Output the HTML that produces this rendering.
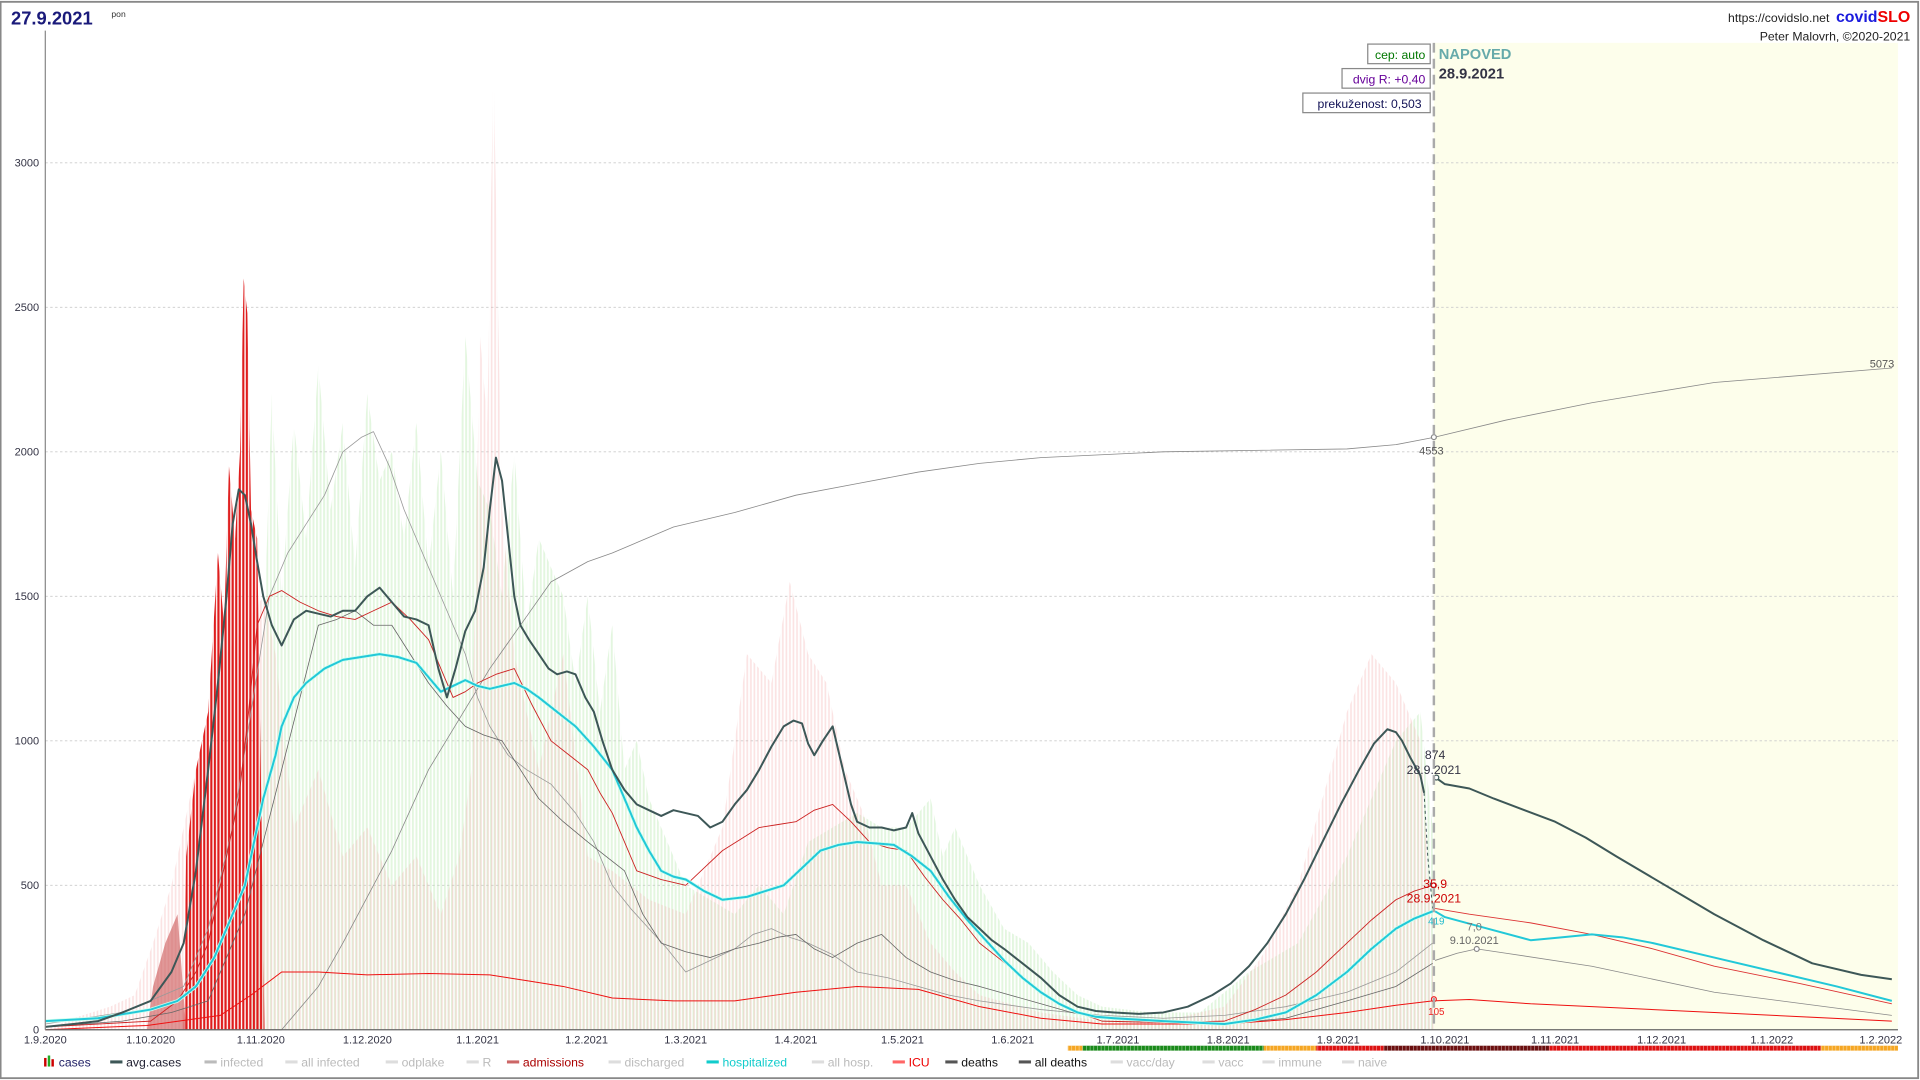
<!DOCTYPE html>
<html><head><meta charset="utf-8"><style>
html,body{margin:0;padding:0;background:#fff;overflow:hidden}
svg{display:block}
text{font-family:"Liberation Sans",sans-serif}
.l{fill:none;vector-effect:non-scaling-stroke;stroke-linejoin:round}
</style></head><body>
<svg width="1920" height="1080" viewBox="0 0 1568 882" preserveAspectRatio="none" xmlns="http://www.w3.org/2000/svg">
<defs>
<pattern id="pg" patternUnits="userSpaceOnUse" width="2.9" height="5000"><rect x="0" y="0" width="1.6" height="5000" fill="#b8e8b0"/></pattern>
<pattern id="pp" patternUnits="userSpaceOnUse" width="2.9" height="5000"><rect x="0.6" y="0" width="1.4" height="5000" fill="#f3b0b0"/></pattern>
<pattern id="pr" patternUnits="userSpaceOnUse" width="2.9" height="5000"><rect x="0.6" y="0" width="1.8" height="5000" fill="#dd1111"/></pattern>
</defs>
<rect x="0" y="0" width="1568" height="882" fill="#fff"/>
<rect x="0.5" y="1.5" width="1566" height="879" fill="none" stroke="#888" stroke-width="1.5"/>
<rect x="1171" y="35" width="379" height="806" fill="#fdfeeb"/>
<g stroke="#ccc" stroke-width="0.7" stroke-dasharray="2,2">
<line x1="37" x2="1550" y1="723" y2="723"/><line x1="37" x2="1550" y1="605" y2="605"/><line x1="37" x2="1550" y1="487" y2="487"/><line x1="37" x2="1550" y1="369" y2="369"/><line x1="37" x2="1550" y1="251" y2="251"/><line x1="37" x2="1550" y1="133" y2="133"/>
</g>
<g font-size="9" fill="#334" text-anchor="end">
<text x="32" y="844">0</text><text x="32" y="726">500</text><text x="32" y="608">1000</text><text x="32" y="490">1500</text><text x="32" y="372">2000</text><text x="32" y="254">2500</text><text x="32" y="136">3000</text>
</g>
<g transform="translate(0,841) scale(1,-0.236)">
<polygon opacity="0.4" fill="url(#pg)" points="205,0 215,1300 222,2200 230,1500 240,2100 250,1700 260,2300 270,1800 280,2100 290,1600 300,2200 310,1900 320,2000 330,1700 340,2100 350,1600 360,2000 370,1500 380,2400 390,1900 400,1800 410,1500 420,2000 430,1400 440,1700 450,1600 460,1500 470,1200 480,1500 490,1100 500,1400 510,900 520,1000 530,800 540,700 560,500 580,450 600,400 620,500 640,400 660,650 680,700 700,750 720,700 740,700 760,800 770,600 780,700 800,500 820,350 840,300 860,200 880,120 900,80 940,60 980,60 1020,200 1060,300 1100,600 1120,800 1140,1000 1160,1100 1170,700 1171,0"/>
<polygon opacity="0.35" fill="url(#pp)" points="37,0 60,40 90,80 110,120 125,300 140,500 155,800 170,1100 185,1300 215,1500 225,1300 240,700 260,900 280,600 300,700 320,500 340,600 360,400 375,600 385,900 392,2400 398,2100 403,3350 406,2650 410,1800 420,1300 440,900 460,1300 480,600 500,550 530,450 560,400 590,700 610,1300 630,1200 645,1550 660,1300 675,1200 690,900 705,750 720,500 740,500 760,300 780,200 800,120 850,60 900,30 960,40 1000,80 1030,250 1060,500 1080,800 1100,1100 1120,1300 1140,1200 1160,1000 1170,300 1171,0"/>
<polygon opacity="0.6" fill="#cc5555" points="120,0 125,150 135,300 145,400 152,0"/>
<polygon opacity="0.95" fill="url(#pr)" points="150,0 152,600 160,900 170,1100 178,1650 183,1400 187,1950 192,1700 196,2000 199,2600 202,2480 205,1800 210,1700 213,900 216,0"/>
<polyline class="l" stroke="#888" stroke-width="0.8" points="37,0 230,0 260,150 280,300 320,620 350,900 380,1110 400,1250 430,1430 450,1550 480,1620 500,1650 550,1740 600,1790 650,1850 700,1890 750,1930 800,1960 850,1980 950,2000 1100,2010 1140,2025 1171,2050 1230,2110 1300,2170 1400,2240 1545,2290"/>
<polyline class="l" stroke="#999" stroke-width="0.8" points="37,20 100,60 150,150 170,350 190,700 205,1100 220,1500 235,1650 250,1750 265,1850 280,2000 295,2050 305,2070 318,1950 330,1800 340,1700 350,1600 365,1450 380,1300 390,1150 400,1050 415,950 430,900 450,850 470,750 485,650 500,500 515,420 530,350 545,280 560,200 575,230 590,260 600,280 615,330 630,350 645,320 660,300 680,260 700,200 725,180 750,150 775,120 800,100 850,70 900,50 950,40 1000,50 1050,80 1100,130 1140,200 1170,300"/>
<polyline class="l" stroke="#666" stroke-width="0.8" points="37,10 100,30 140,60 170,100 185,250 200,400 215,650 230,900 245,1150 260,1400 275,1420 290,1450 305,1400 320,1400 335,1300 350,1200 365,1120 380,1050 395,1020 410,1000 425,900 440,800 460,720 480,650 495,600 510,550 525,400 540,300 560,270 580,250 600,280 620,300 635,320 650,330 665,280 680,250 700,300 720,330 740,250 760,200 780,170 800,150 825,120 850,90 875,60 900,40 950,25 1000,20 1050,40 1100,100 1140,150 1170,230"/>
<polyline class="l" stroke="#888" stroke-width="0.8" points="1172,240 1190,265 1206,280 1230,265 1300,220 1400,130 1545,50"/>
<polyline class="l" stroke="#c22" stroke-width="0.9" points="37,10 80,20 123,30 145,100 160,200 170,300 180,500 195,800 203,1100 210,1400 220,1500 230,1520 245,1480 260,1450 275,1430 290,1420 305,1450 320,1480 335,1420 350,1350 360,1250 370,1150 380,1170 390,1200 405,1230 420,1250 435,1120 450,1000 465,950 480,900 490,820 500,750 510,650 520,550 540,520 560,500 575,560 590,620 605,660 620,700 635,710 650,720 665,760 680,780 695,720 710,650 725,630 740,620 755,530 770,450 785,380 800,300 815,250 830,200 845,150 860,100 880,60 900,30 950,25 1000,30 1025,70 1050,120 1075,200 1100,300 1120,380 1140,450 1155,480 1170,500"/>
<polyline class="l" stroke="#d33" stroke-width="0.9" points="1172,420 1200,400 1250,370 1300,330 1350,280 1400,220 1470,160 1545,90"/>
<polyline class="l" stroke="#e11" stroke-width="1" points="37,0 120,15 180,50 205,120 230,200 260,200 300,190 350,195 400,190 430,170 460,150 500,110 550,100 600,100 650,130 700,150 750,140 775,110 800,80 850,40 900,20 1000,20 1050,35 1100,60 1140,85 1170,100 1200,105 1250,90 1300,80 1400,60 1545,30"/>
<polyline class="l" stroke="#cfe" stroke-width="3.5" points="37,30 80,40 123,70 145,100 160,150 175,250 185,350 200,500 215,800 225,950 230,1050 240,1150 250,1200 265,1250 280,1280 295,1290 310,1300 325,1290 340,1270 350,1220 360,1170 370,1190 380,1210 390,1190 400,1180 410,1190 420,1200 430,1180 440,1150 455,1100 470,1050 485,980 500,900 510,800 520,700 530,620 540,550 550,530 560,520 575,480 590,450 600,455 610,460 625,480 640,500 655,560 670,620 685,640 700,650 715,645 730,640 745,600 760,550 775,460 790,380 805,310 820,240 835,180 850,130 865,90 880,60 895,45 910,40 950,30 1000,20 1025,35 1050,60 1075,120 1100,200 1120,280 1140,350 1155,385 1170,410"/>
<polyline class="l" stroke="#22c8d8" stroke-width="2" points="37,30 80,40 123,70 145,100 160,150 175,250 185,350 200,500 215,800 225,950 230,1050 240,1150 250,1200 265,1250 280,1280 295,1290 310,1300 325,1290 340,1270 350,1220 360,1170 370,1190 380,1210 390,1190 400,1180 410,1190 420,1200 430,1180 440,1150 455,1100 470,1050 485,980 500,900 510,800 520,700 530,620 540,550 550,530 560,520 575,480 590,450 600,455 610,460 625,480 640,500 655,560 670,620 685,640 700,650 715,645 730,640 745,600 760,550 775,460 790,380 805,310 820,240 835,180 850,130 865,90 880,60 895,45 910,40 950,30 1000,20 1025,35 1050,60 1075,120 1100,200 1120,280 1140,350 1155,385 1170,410"/>
<polyline class="l" stroke="#22c8d8" stroke-width="2" points="1172,410 1180,390 1215,350 1250,310 1275,320 1300,330 1325,320 1350,300 1400,250 1450,200 1500,150 1545,100"/>
<polyline class="l" stroke="#3d5757" stroke-width="2" points="37,10 60,20 80,30 100,60 123,100 140,200 150,300 160,550 170,900 178,1200 185,1500 190,1750 195,1870 200,1850 205,1750 210,1620 215,1500 222,1400 230,1330 240,1420 250,1450 260,1440 270,1430 280,1450 290,1450 300,1500 310,1530 320,1480 330,1430 340,1420 350,1400 358,1250 365,1150 372,1250 380,1380 388,1450 395,1600 400,1800 405,1980 410,1900 415,1700 420,1500 425,1400 432,1350 440,1300 448,1250 455,1230 463,1240 470,1230 478,1150 485,1100 492,1000 500,900 510,830 520,780 530,760 540,740 550,760 560,750 570,740 580,700 590,720 600,780 610,830 620,900 630,980 640,1050 648,1070 655,1060 660,990 665,950 672,1000 680,1050 685,960 690,870 695,780 700,720 710,700 720,700 730,690 740,700 745,750 750,680 760,600 770,520 780,450 790,390 800,350 810,310 820,280 835,230 850,180 865,120 880,80 895,65 910,60 930,55 950,60 970,80 990,120 1005,160 1020,220 1035,300 1050,400 1065,520 1080,650 1095,780 1110,900 1122,990 1133,1040 1140,1030 1145,1000 1152,940 1160,880 1163,820"/>
<polyline class="l" stroke="#3d5757" stroke-width="1" stroke-dasharray="3,3" points="1163,820 1166,600 1170,420"/>
<polyline class="l" stroke="#3d5757" stroke-width="2" points="1172,874 1180,850 1200,835 1220,800 1245,760 1270,720 1295,665 1320,600 1360,500 1400,400 1440,310 1480,230 1520,190 1545,175"/>
</g>
<g fill="#fff" stroke-width="1">
<circle cx="1171" cy="357" r="2" stroke="#888"/><circle cx="1173" cy="635" r="2" stroke="#3d5757"/><circle cx="1171" cy="723" r="2" stroke="#c22"/><circle cx="1171" cy="816" r="2" stroke="#e22"/><circle cx="1206" cy="775" r="2" stroke="#888"/>
</g>
<line x1="1171" y1="35" x2="1171" y2="841" stroke="#aaa" stroke-width="2" stroke-dasharray="8,5"/>
<line x1="37" y1="841" x2="1550" y2="841" stroke="#666" stroke-width="1"/>
<line x1="37" y1="25" x2="37" y2="841" stroke="#888" stroke-width="1"/>
<g font-size="9" fill="#334" text-anchor="middle">
<text x="37" y="852">1.9.2020</text><text x="123" y="852">1.10.2020</text><text x="213" y="852">1.11.2020</text><text x="300" y="852">1.12.2020</text><text x="390" y="852">1.1.2021</text><text x="479" y="852">1.2.2021</text><text x="560" y="852">1.3.2021</text><text x="650" y="852">1.4.2021</text><text x="737" y="852">1.5.2021</text><text x="827" y="852">1.6.2021</text><text x="913" y="852">1.7.2021</text><text x="1003" y="852">1.8.2021</text><text x="1093" y="852">1.9.2021</text><text x="1180" y="852">1.10.2021</text><text x="1270" y="852">1.11.2021</text><text x="1357" y="852">1.12.2021</text><text x="1447" y="852">1.1.2022</text><text x="1536" y="852">1.2.2022</text>
</g>
<rect x="872" y="854" width="12" height="4" fill="#f5a623"/>
<rect x="884" y="854" width="148" height="4" fill="#1a8a1a"/>
<rect x="1032" y="854" width="43" height="4" fill="#f5a623"/>
<rect x="1075" y="854" width="55" height="4" fill="#dd1111"/>
<rect x="1130" y="854" width="135" height="4" fill="#6b0f0f"/>
<rect x="1265" y="854" width="222" height="4" fill="#dd1111"/>
<rect x="1487" y="854" width="63" height="4" fill="#f5a623"/>
<line x1="872" y1="856" x2="1550" y2="856" stroke="#fff" stroke-width="4" stroke-dasharray="0.5,2.5" opacity="0.6"/>
<text x="9" y="20" font-size="15" font-weight="bold" fill="#1a1a7a">27.9.2021</text>
<text x="91" y="14" font-size="7" fill="#333">pon</text>
<text x="1494" y="18" font-size="10" fill="#222" text-anchor="end">https://covidslo.net</text>
<text x="1560" y="18" font-size="13" font-weight="bold" text-anchor="end"><tspan fill="#1a1add">covid</tspan><tspan fill="#e00">SLO</tspan></text>
<text x="1560" y="33" font-size="10" fill="#222" text-anchor="end">Peter Malovrh, ©2020-2021</text>
<rect x="1117" y="36" width="51" height="16" fill="#fff" stroke="#888"/>
<text x="1164" y="48" font-size="10" fill="#070" text-anchor="end">cep: auto</text>
<rect x="1096" y="56" width="72" height="16" fill="#fff" stroke="#888"/>
<text x="1164" y="68" font-size="10" fill="#609" text-anchor="end">dvig R: +0,40</text>
<rect x="1064" y="76" width="104" height="16" fill="#fff" stroke="#888"/>
<text x="1161" y="88" font-size="10" fill="#115" text-anchor="end">prekuženost: 0,503</text>
<text x="1175" y="48" font-size="12" font-weight="bold" fill="#6aa">NAPOVED</text>
<text x="1175" y="64" font-size="12" font-weight="bold" fill="#334">28.9.2021</text>
<text x="1169" y="371" font-size="9" fill="#555" text-anchor="middle">4553</text>
<text x="1547" y="300" font-size="9" fill="#555" text-anchor="end">5073</text>
<text x="1172" y="620" font-size="10" fill="#334" text-anchor="middle">874</text>
<text x="1171" y="632" font-size="10" fill="#334" text-anchor="middle">28.9.2021</text>
<text x="1172" y="725" font-size="10" fill="#c00" text-anchor="middle">35,9</text>
<text x="1171" y="737" font-size="10" fill="#c00" text-anchor="middle">28.9.2021</text>
<text x="1204" y="760" font-size="9" fill="#777" text-anchor="middle">7,0</text>
<text x="1204" y="771" font-size="9" fill="#666" text-anchor="middle">9.10.2021</text>
<text x="1173" y="755" font-size="8" fill="#2bc" text-anchor="middle">419</text>
<text x="1173" y="829" font-size="8" fill="#e22" text-anchor="middle">105</text>
<g font-size="10">
<rect x="36" y="864" width="2" height="7" fill="#c00"/><rect x="39" y="862" width="2" height="9" fill="#2a2"/><rect x="42" y="865" width="2" height="6" fill="#c00"/>
<text x="48" y="871" fill="#226">cases</text>
<rect x="90" y="866" width="10" height="2.5" fill="#3d5757"/><text x="103" y="871" fill="#223">avg.cases</text>
<rect x="167" y="866" width="10" height="2.5" fill="#bbb"/><text x="180" y="871" fill="#bbb">infected</text>
<rect x="233" y="866" width="10" height="2.5" fill="#ddd"/><text x="246" y="871" fill="#bbb">all infected</text>
<rect x="315" y="866" width="10" height="2.5" fill="#ddd"/><text x="328" y="871" fill="#bbb">odplake</text>
<rect x="381" y="866" width="10" height="2.5" fill="#ddd"/><text x="394" y="871" fill="#bbb">R</text>
<rect x="414" y="866" width="10" height="2.5" fill="#c66"/><text x="427" y="871" fill="#a00">admissions</text>
<rect x="497" y="866" width="10" height="2.5" fill="#ddd"/><text x="510" y="871" fill="#bbb">discharged</text>
<rect x="577" y="866" width="10" height="2.5" fill="#1cc"/><text x="590" y="871" fill="#1cc">hospitalized</text>
<rect x="663" y="866" width="10" height="2.5" fill="#ddd"/><text x="676" y="871" fill="#bbb">all hosp.</text>
<rect x="729" y="866" width="10" height="2.5" fill="#f66"/><text x="742" y="871" fill="#e00">ICU</text>
<rect x="772" y="866" width="10" height="2.5" fill="#555"/><text x="785" y="871" fill="#111">deaths</text>
<rect x="832" y="866" width="10" height="2.5" fill="#555"/><text x="845" y="871" fill="#111">all deaths</text>
<rect x="907" y="866" width="10" height="2.5" fill="#ddd"/><text x="920" y="871" fill="#bbb">vacc/day</text>
<rect x="982" y="866" width="10" height="2.5" fill="#ddd"/><text x="995" y="871" fill="#bbb">vacc</text>
<rect x="1031" y="866" width="10" height="2.5" fill="#ddd"/><text x="1044" y="871" fill="#bbb">immune</text>
<rect x="1096" y="866" width="10" height="2.5" fill="#ddd"/><text x="1109" y="871" fill="#bbb">naive</text>
</g>
</svg>
</body></html>
